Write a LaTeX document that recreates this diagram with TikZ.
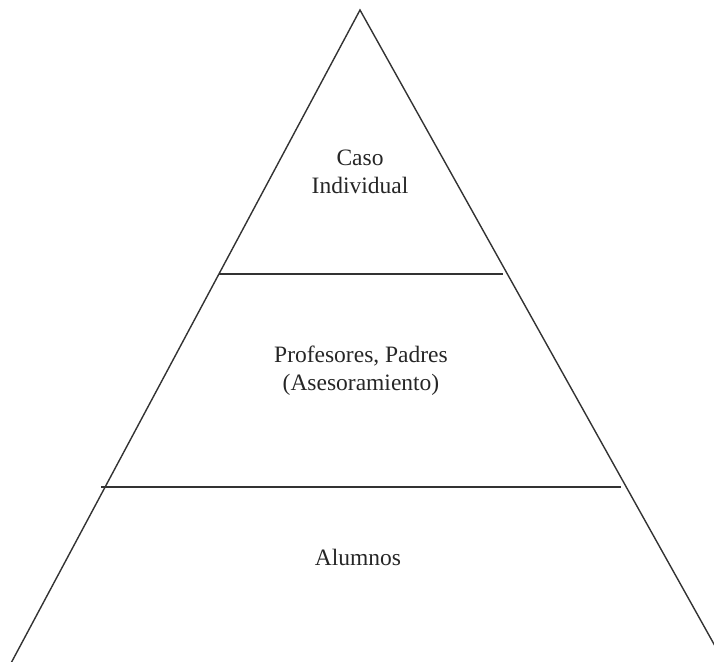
\documentclass[tikz,border=0pt]{standalone}
\usepackage{fontspec}
\setmainfont{Liberation Serif}
\begin{document}
\begin{tikzpicture}[x=1pt,y=-1pt,
  edge/.style={line width=1.4pt, draw=black!80},
  lbl/.style={font=\fontsize{23.5}{28}\selectfont, align=center, text=black!85, inner sep=0pt}]
\useasboundingbox (0,0) rectangle (714,661);
\clip (0,0) rectangle (714,661);
\coordinate (apex) at (360,10);
\coordinate (bl) at (2,680);
\coordinate (br) at (734,680);
\coordinate (a1) at (219,274);
\coordinate (a2) at (503,274);
\coordinate (b1) at (101,487);
\coordinate (b2) at (621,487);
\draw[edge, line join=miter] (bl) -- (apex) -- (br);
\draw[edge] (a1) -- (a2);
\draw[edge] (b1) -- (b2);
\node[lbl] (top) at (360,172) {Caso\\Individual};
\node[lbl] (mid) at (361,371) {Profesores, Padres\\(Asesoramiento)};
\node[lbl] (bot) at (358,557) {Alumnos};
\end{tikzpicture}
\end{document}
